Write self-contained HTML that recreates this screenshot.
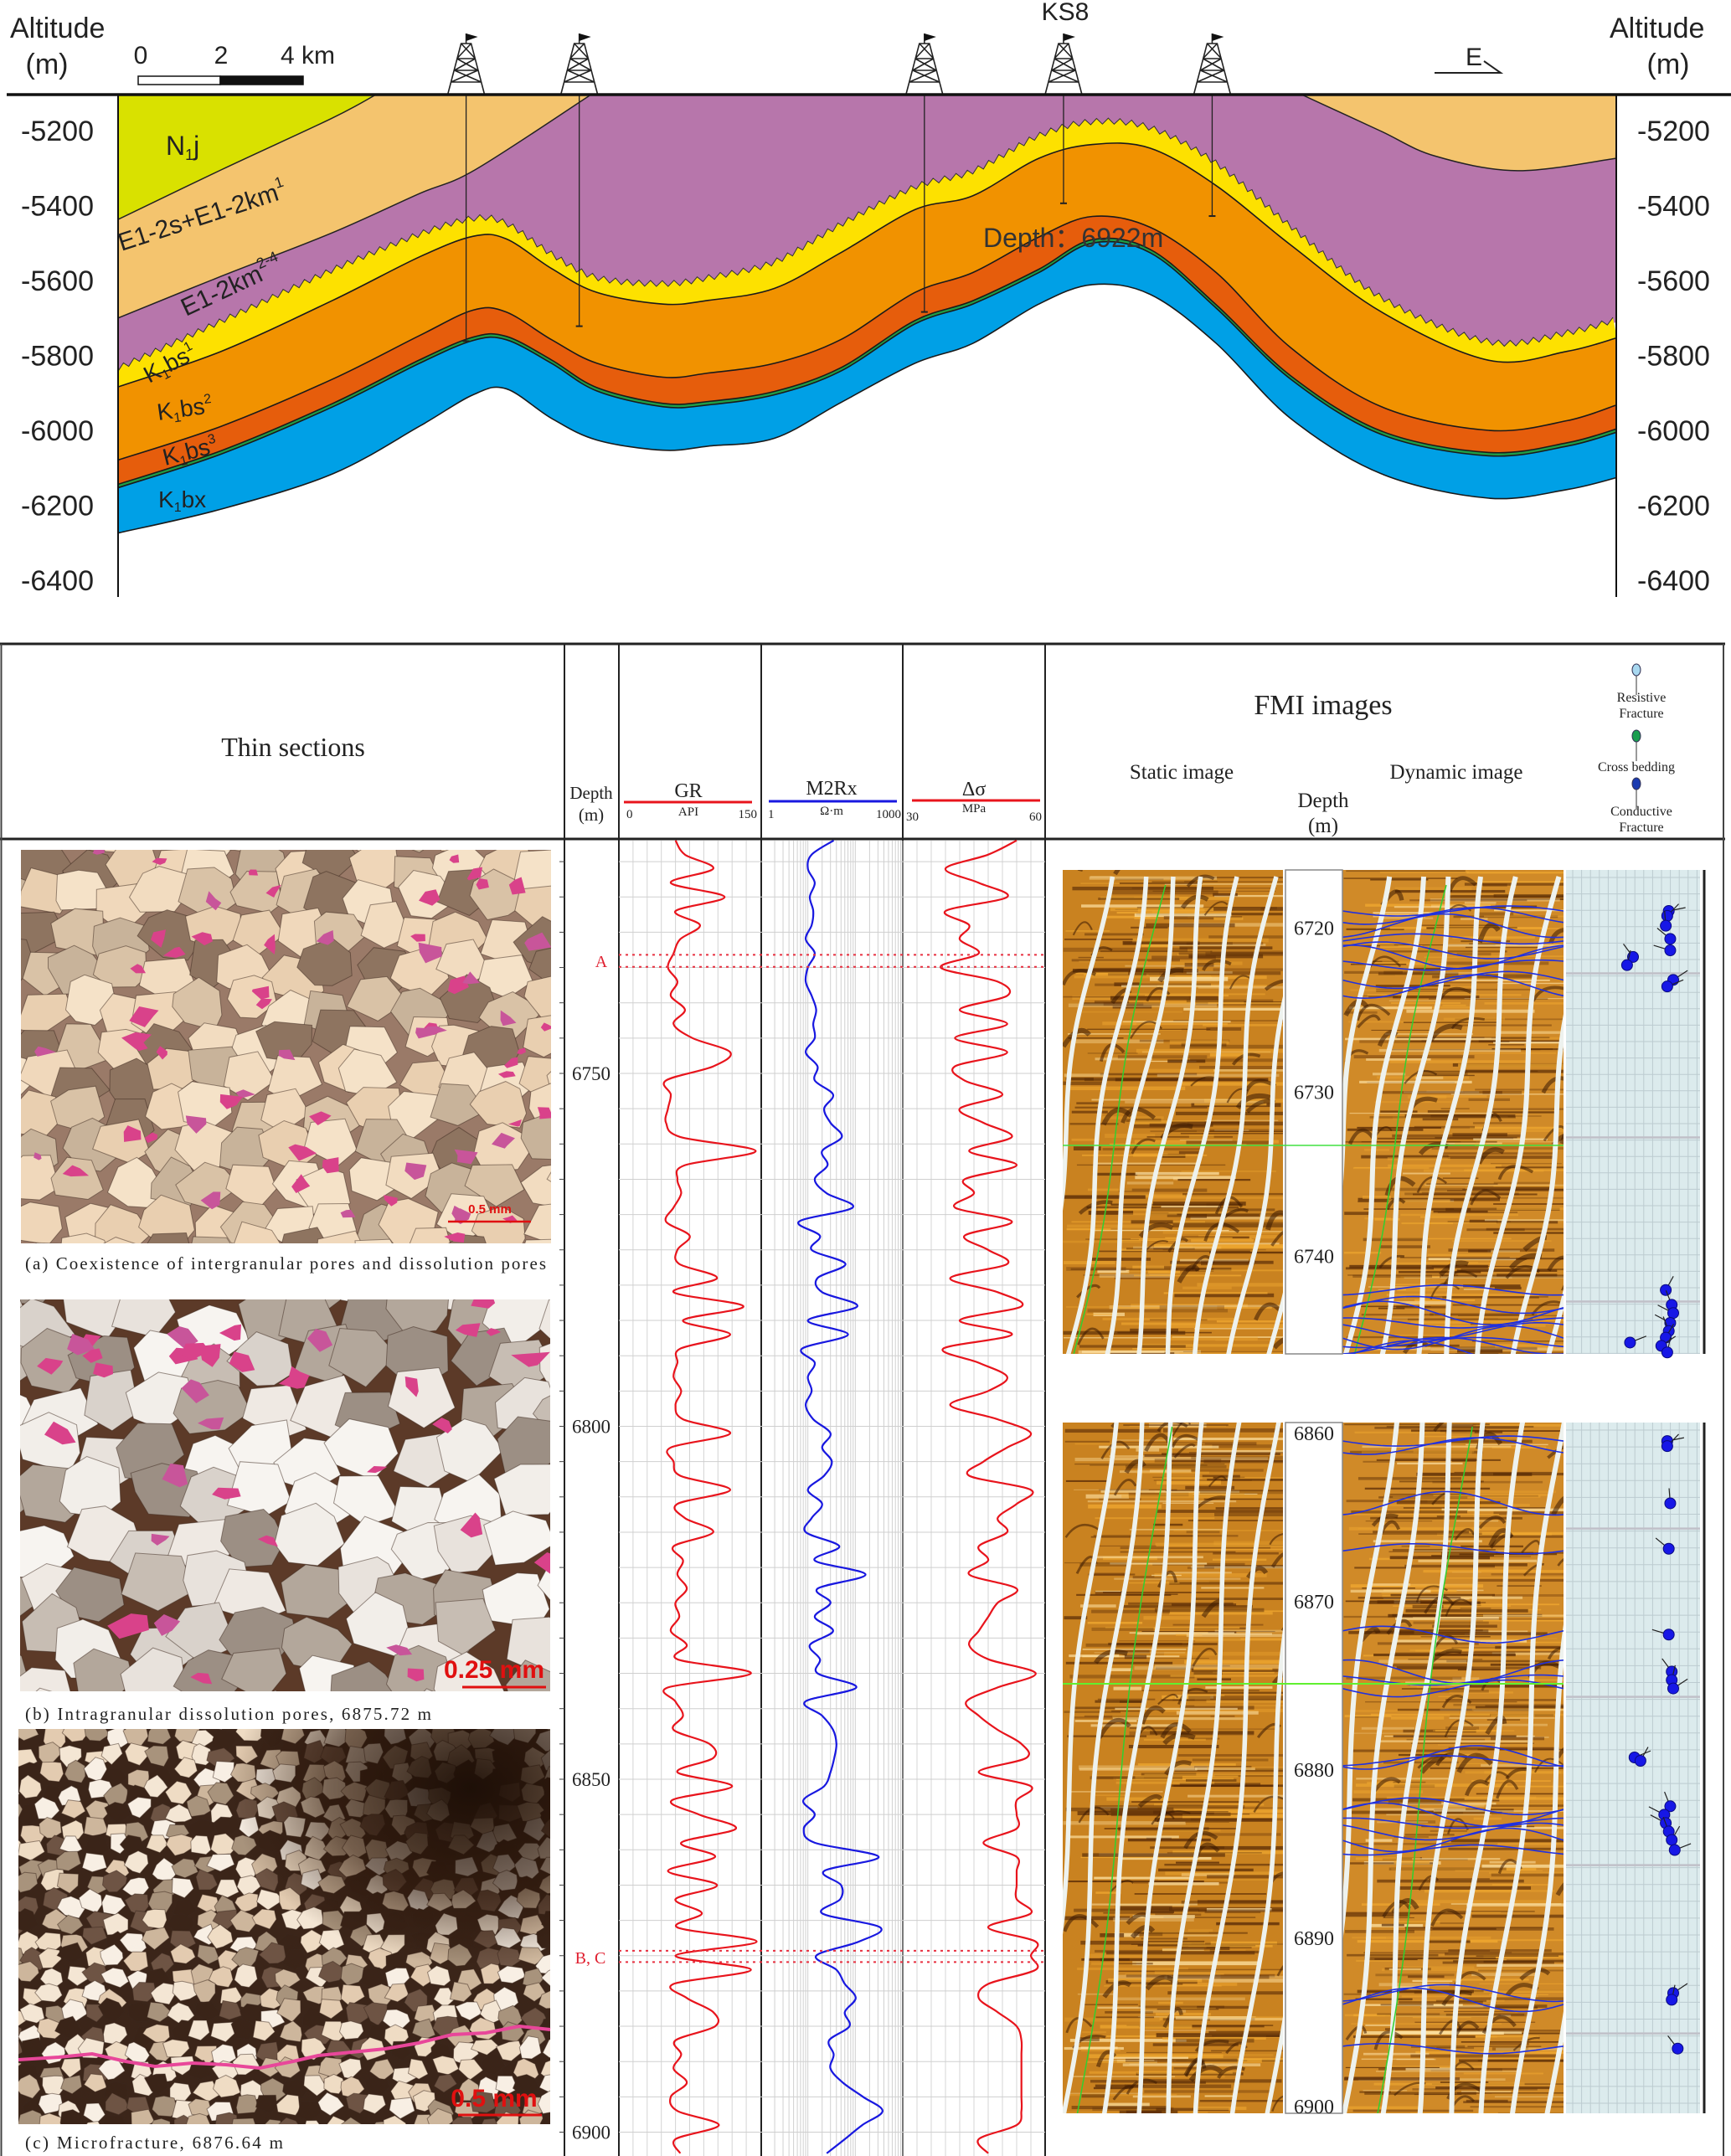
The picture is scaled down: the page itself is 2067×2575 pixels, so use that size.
<!DOCTYPE html>
<html><head><meta charset="utf-8">
<style>
html,body{margin:0;padding:0;background:#fff;}
svg{display:block;}
.nar{font-family:"Liberation Sans Narrow","Liberation Sans",sans-serif;}
.ser{font-family:"Liberation Serif",serif;}
</style></head>
<body>
<svg id="fig" width="2067" height="2575" viewBox="0 0 2067 2575" xmlns="http://www.w3.org/2000/svg">
<defs>
  <clipPath id="plotclip"><rect x="141" y="113" width="1789" height="600"/></clipPath>
  <radialGradient id="darkc" cx="0.85" cy="0.15" r="0.45">
    <stop offset="0" stop-color="#1c0e06" stop-opacity="0.95"/>
    <stop offset="0.6" stop-color="#2a1509" stop-opacity="0.6"/>
    <stop offset="1" stop-color="#2a1509" stop-opacity="0"/>
  </radialGradient>
</defs>
<g id="section" clip-path="url(#plotclip)"></g>
<g id="sectionTop"></g>
<g id="table"></g>

<g class="nar" fill="#222" font-size="34">
  <text x="12" y="45">Altitude</text>
  <text x="56" y="88" text-anchor="middle">(m)</text>
  <text x="1922" y="45">Altitude</text>
  <text x="1992" y="88" text-anchor="middle">(m)</text>
  <text x="168" y="76" text-anchor="middle" font-size="30">0</text>
  <text x="264" y="76" text-anchor="middle" font-size="30">2</text>
  <text x="335" y="76" font-size="30">4 km</text>
  <text x="1272" y="24" text-anchor="middle" font-size="30">KS8</text>
  <text x="1750" y="78" font-size="30">E</text>
  <text x="198" y="185" font-size="32">N<tspan font-size="18" dy="6">1</tspan><tspan dy="-6">j</tspan></text>
  <text x="145" y="300" font-size="30" transform="rotate(-18 145 300)">E1-2s+E1-2km<tspan font-size="18" dy="-14">1</tspan></text>
  <text x="222" y="378" font-size="30" transform="rotate(-25 222 378)">E1-2km<tspan font-size="18" dy="-14">2-4</tspan></text>
  <text x="178" y="458" font-size="28" transform="rotate(-28 178 458)">K<tspan font-size="16" dy="5">1</tspan><tspan dy="-5">bs</tspan><tspan font-size="16" dy="-12">1</tspan></text>
  <text x="189" y="502" font-size="28" transform="rotate(-8 189 502)">K<tspan font-size="16" dy="5">1</tspan><tspan dy="-5">bs</tspan><tspan font-size="16" dy="-12">2</tspan></text>
  <text x="197" y="556" font-size="28" transform="rotate(-14 197 556)">K<tspan font-size="16" dy="5">1</tspan><tspan dy="-5">bs</tspan><tspan font-size="16" dy="-12">3</tspan></text>
  <text x="189" y="606" font-size="28">K<tspan font-size="16" dy="5">1</tspan><tspan dy="-5">bx</tspan></text>
  <text x="1174" y="295" font-size="32" fill="#333">Depth：6922m</text>
</g>

<g class="ser" fill="#222">
  <text x="350" y="903" text-anchor="middle" font-size="32">Thin sections</text>
  <text x="706" y="954" text-anchor="middle" font-size="21">Depth</text>
  <text x="706" y="980" text-anchor="middle" font-size="21">(m)</text>
  <text x="822" y="952" text-anchor="middle" font-size="24">GR</text>
  <text x="822" y="974" text-anchor="middle" font-size="15">API</text>
  <text x="748" y="977" font-size="15">0</text>
  <text x="904" y="977" text-anchor="end" font-size="15">150</text>
  <text x="993" y="949" text-anchor="middle" font-size="24">M2Rx</text>
  <text x="993" y="973" text-anchor="middle" font-size="15">Ω·m</text>
  <text x="917" y="977" font-size="15">1</text>
  <text x="1076" y="977" text-anchor="end" font-size="15">1000</text>
  <text x="1163" y="950" text-anchor="middle" font-size="24">Δσ</text>
  <text x="1163" y="970" text-anchor="middle" font-size="15">MPa</text>
  <text x="1082" y="980" font-size="15">30</text>
  <text x="1244" y="980" text-anchor="end" font-size="15">60</text>
  <text x="1580" y="853" text-anchor="middle" font-size="34">FMI images</text>
  <text x="1411" y="930" text-anchor="middle" font-size="25">Static image</text>
  <text x="1739" y="930" text-anchor="middle" font-size="25">Dynamic image</text>
  <text x="1580" y="964" text-anchor="middle" font-size="25">Depth</text>
  <text x="1580" y="994" text-anchor="middle" font-size="25">(m)</text>
  <text x="1960" y="838" text-anchor="middle" font-size="16">Resistive</text>
  <text x="1960" y="857" text-anchor="middle" font-size="16">Fracture</text>
  <text x="1954" y="921" text-anchor="middle" font-size="16">Cross bedding</text>
  <text x="1960" y="974" text-anchor="middle" font-size="16">Conductive</text>
  <text x="1960" y="993" text-anchor="middle" font-size="16">Fracture</text>
  <text x="30" y="1516" font-size="21" textLength="622">(a) Coexistence of intergranular pores and dissolution pores</text>
  <text x="30" y="2054" font-size="21" textLength="485">(b) Intragranular dissolution pores,  6875.72 m</text>
  <text x="30" y="2566" font-size="21" textLength="308">(c) Microfracture,  6876.64 m</text>
  <text x="718" y="1155" text-anchor="middle" font-size="20" fill="#e02030">A</text>
  <text x="705" y="2345" text-anchor="middle" font-size="20" fill="#e02030">B, C</text>
</g>
</svg>

<script>
// ===================== DATA =====================
const stationKm = [0, 2.5, 5.2, 7.3, 8.6, 9.4, 10.5, 11.6, 13.2, 14.3, 15.9, 17.5, 19.3, 20.7, 22.3, 23.6, 25.0, 26.6, 28.4, 30.6, 33.2, 35.1, 36.3];
const baseK1bx = [-6274,-6210,-6116,-5989,-5905,-5889,-5968,-6026,-6053,-6042,-6021,-5926,-5821,-5768,-5663,-5611,-5637,-5768,-5968,-6116,-6181,-6158,-6126];
const topK1bx = [-6153,-6063,-5937,-5821,-5760,-5758,-5821,-5895,-5937,-5932,-5905,-5842,-5716,-5663,-5579,-5500,-5526,-5674,-5863,-6011,-6068,-6042,-6005];
const topK1bs3 = [-6079,-5989,-5863,-5747,-5679,-5684,-5758,-5821,-5858,-5847,-5821,-5758,-5632,-5579,-5484,-5429,-5458,-5579,-5779,-5937,-6000,-5974,-5932];
const topK1bs2 = [-5884,-5789,-5653,-5537,-5482,-5489,-5568,-5632,-5663,-5653,-5621,-5526,-5411,-5374,-5274,-5237,-5247,-5347,-5505,-5684,-5813,-5789,-5753];
const topK1bs1 = [-5842,-5716,-5579,-5484,-5442,-5455,-5537,-5600,-5616,-5600,-5558,-5458,-5358,-5316,-5221,-5184,-5200,-5295,-5463,-5653,-5771,-5747,-5711];
const tanBaseLeftKm = [0, 2.49, 5.16, 7.3, 8.64, 11.44];
const tanBaseLeftAlt = [-5700, -5589, -5474, -5368, -5305, -5105];
const njBaseKm = [0, 2.49, 5.16, 6.23];
const njBaseAlt = [-5437, -5305, -5168, -5105];
const tanRightKm = [28.69, 30.56, 31.9, 33.9, 36.28];
const tanRightAlt = [-5105, -5200, -5268, -5307, -5274];
const altTicks = [-5200, -5400, -5600, -5800, -6000, -6200, -6400];
const wellKm = [8.43, 11.17, 19.53, 22.9, 26.5];
const wellTdAlt = [-5762, -5722, -5684, -5394, -5428];

const logDepth = [6717,6719,6721,6723,6725,6727,6729,6731,6733,6735,6737,6739,6741,6743,6745,6747,6749,6751,6753,6755,6757,6759,6761,6763,6765,6767,6769,6771,6773,6775,6777,6779,6781,6783,6785,6787,6789,6791,6793,6795,6797,6799,6801,6803,6805,6807,6809,6811,6813,6815,6817,6819,6821,6823,6825,6827,6829,6831,6833,6835,6837,6839,6841,6843,6845,6847,6849,6851,6853,6855,6857,6859,6861,6863,6865,6867,6869,6871,6873,6875,6877,6879,6881,6883,6885,6887,6889,6891,6893,6895,6897,6899,6901,6903];
const grValues = [60,70,100,55,112,60,86,65,58,52,62,55,70,58,78,118,100,50,55,52,50,65,145,70,62,66,58,50,75,62,64,104,58,132,68,118,65,62,58,66,60,68,118,55,58,65,118,62,70,100,58,68,62,72,60,64,55,72,62,140,52,60,68,58,96,100,62,120,56,85,124,66,102,52,104,60,88,62,146,60,140,58,72,100,102,60,66,58,72,55,62,106,60,65];
const m2rxValues = [35,12,10,14,11,13,12,9,14,10,9,12,15,13,14,9,16,14,34,22,30,52,20,26,14,25,88,6.5,18,12,62,16,20,110,10,70,7.5,14,10,12,9,13,30,20,32,22,10,20,12,9,46,14,164,16,30,14,34,11,18,16,105,8.8,20,34,40,36,30,22,8,14,8.2,14,310,22,50,48,20,335,120,15,40,60,102,60,75,28,35,30,55,145,375,140,60,25];
const dsigValues = [54,48,39,46,52,39,44,42,46,38,50,52,42,52,41,52,41,43,51,42,47,53,44,54,43,45,41,53,43,48,52,40,50,55,42,53,38.5,46,52,48,40,50,57,52,47,44,57,54,50,52,46,48,44,54,50,48,46,44,48,58,50,43.4,46,50,55,56,46,57,54,54,54,47,54,54,54,54,57,48,58,57,58,48,46,50,54,55,55,55,55,55,55,54,46,48];
const depthTicks = [6750, 6800, 6850, 6900];
const markerA = [6733.2, 6734.9];
const markerBC = [6874.3, 6875.9];

const fmi1Ticks = [6720, 6730, 6740];
const fmi2Ticks = [6860, 6870, 6880, 6890, 6900];
const tad1Depth = [6719.0,6719.3,6719.9,6720.7,6721.4,6721.8,6722.3,6723.2,6723.6,6742.1,6743.0,6743.5,6744.1,6744.6,6745.0,6745.3,6745.5,6745.9];
const tad1Dip = [69,68,67,70,70,45,41,72,68,67,71,72,70,69,67,43,64,68];
const tad2Depth = [6860.5,6860.8,6864.2,6866.9,6872.0,6874.2,6874.7,6875.2,6879.3,6879.5,6882.2,6882.7,6883.2,6883.7,6884.2,6884.8,6893.3,6893.7,6896.6];
const tad2Dip = [68,68,70,69,69,71,71,72,46,50,70,66,67,69,71,73,72,71,75];

// ===================== HELPERS =====================
const NS = 'http://www.w3.org/2000/svg';
function mk(parent, tag, attrs){ const e=document.createElementNS(NS,tag); for(const k in attrs) e.setAttribute(k,attrs[k]); parent.appendChild(e); return e; }
let seed=12345;
function rnd(){ seed|=0; seed=seed+0x6D2B79F5|0; let t=Math.imul(seed^seed>>>15,1|seed); t=t+Math.imul(t^t>>>7,61|t)^t; return ((t^t>>>14)>>>0)/4294967296; }
function curve(pts, cmd){
  let d = cmd + pts[0][0].toFixed(1) + ',' + pts[0][1].toFixed(1);
  for(let i=0;i<pts.length-1;i++){
    const p0=pts[i-1]||pts[i], p1=pts[i], p2=pts[i+1], p3=pts[i+2]||p2;
    const c1=[p1[0]+(p2[0]-p0[0])/6, p1[1]+(p2[1]-p0[1])/6];
    const c2=[p2[0]-(p3[0]-p1[0])/6, p2[1]-(p3[1]-p1[1])/6];
    d+=' C'+c1[0].toFixed(1)+','+c1[1].toFixed(1)+' '+c2[0].toFixed(1)+','+c2[1].toFixed(1)+' '+p2[0].toFixed(1)+','+p2[1].toFixed(1);
  }
  return d;
}

// ===================== CROSS SECTION =====================
const xKm = k => 141 + k*49.3;
const yAlt = a => 156 + (-5200 - a)*0.4475;
const sec = document.getElementById('section');
const secTop = document.getElementById('sectionTop');
const ptsOf = (kms, alts) => kms.map((k,i)=>[xKm(k), yAlt(alts[i])]);
const topLine = [[xKm(0), yAlt(-5105)], [xKm(36.3), yAlt(-5105)]];
const hK1bx = ptsOf(stationKm, baseK1bx);
const hBlue = ptsOf(stationKm, topK1bx);
const hGreen = ptsOf(stationKm, topK1bx.map(a=>a+9));
const hBs3 = ptsOf(stationKm, topK1bs3);
const hBs2 = ptsOf(stationKm, topK1bs2);
const hBs1 = ptsOf(stationKm, topK1bs1);
function band(upper, lower, fill, name){
  const p = mk(sec,'path',{d: curve(upper,'M')+' '+curve(lower.slice().reverse(),'L')+' Z', fill: fill, stroke:'none'});
  
  
  return p;
}
band(topLine, hBs1, '#b776ab', 'layer-e12km24');
const tmp = mk(sec,'path',{d: curve(hBs1,'M'), fill:'none', stroke:'none'});


const L = tmp.getTotalLength();
const zig = [];
for(let s=0, i=0; s<=L; s+=7, i++){ const p=tmp.getPointAtLength(s); zig.push([p.x, p.y - (i%2?7:0)]); }
let zd = 'M'+zig.map(p=>p[0].toFixed(1)+','+p[1].toFixed(1)).join(' L');
zd += ' ' + curve(hBs2.slice().reverse(),'L') + ' Z';
const yl = mk(sec,'path',{d: zd, fill:'#fde100', stroke:'none'});


band(hBs2, hBs3, '#f19200', 'layer-k1bs2');
band(hBs3, hGreen, '#e65d0c', 'layer-k1bs3');
band(hGreen, hBlue, '#1f9e48', 'layer-thin-green');
band(hBlue, hK1bx, '#00a0e6', 'layer-k1bx');
const tanL = ptsOf(tanBaseLeftKm, tanBaseLeftAlt);
const tanLp = mk(sec,'path',{d: 'M'+xKm(0)+','+yAlt(-5105)+' L'+xKm(11.44)+','+yAlt(-5105)+' ' + curve(tanL.slice().reverse(),'L') + ' Z', fill:'#f4c46e', stroke:'#222', 'stroke-width':1.5});


const nj = ptsOf(njBaseKm, njBaseAlt);
const njp = mk(sec,'path',{d: 'M'+xKm(0)+','+yAlt(-5105)+' L'+xKm(6.23)+','+yAlt(-5105)+' ' + curve(nj.slice().reverse(),'L') + ' Z', fill:'#d9e100', stroke:'#222', 'stroke-width':1.5});


const tanR = ptsOf(tanRightKm, tanRightAlt);
const tanRp = mk(sec,'path',{d: curve(tanR,'M') + ' L'+xKm(36.3)+','+yAlt(-5105)+' Z', fill:'#f4c46e', stroke:'#222', 'stroke-width':1.5});


[[hK1bx,'horizon-k1bx-base'],[hBlue,'horizon-k1bx-top'],[hGreen,'horizon-green-top'],[hBs3,'horizon-k1bs3-top'],[hBs2,'horizon-k1bs2-top']].forEach(function(pair){
  const o = mk(sec,'path',{d: curve(pair[0],'M'), fill:'none', stroke:'#1a1a1a', 'stroke-width':1.6});
  
  
});
const zo = mk(sec,'path',{d: 'M'+zig.map(p=>p[0].toFixed(1)+','+p[1].toFixed(1)).join(' L'), fill:'none', stroke:'#333', 'stroke-width':1});


wellKm.forEach((k,i)=>{
  const x = xKm(k), yb = yAlt(wellTdAlt[i]);
  const wl = mk(secTop,'line',{x1:x,y1:113,x2:x,y2:yb,stroke:'#222','stroke-width':1.3});
  
  
  const wt = mk(secTop,'line',{x1:x-4,y1:yb,x2:x+4,y2:yb,stroke:'#222','stroke-width':2});
  
  
  const g = mk(secTop,'g',{stroke:'#222','stroke-width':1.6,fill:'none'});
  
  
  const dd = 'M'+(x-22)+',113 L'+(x-6)+',52 L'+(x+6)+',52 L'+(x+22)+',113 M'+(x-18)+',98 L'+(x+18)+',98 M'+(x-14)+',84 L'+(x+14)+',84 M'+(x-11)+',70 L'+(x+11)+',70 M'+(x-18)+',98 L'+(x+14)+',84 M'+(x+18)+',98 L'+(x-14)+',84 M'+(x-14)+',84 L'+(x+11)+',70 M'+(x+14)+',84 L'+(x-11)+',70 M'+(x-11)+',70 L'+(x+6)+',52 M'+(x+11)+',70 L'+(x-6)+',52 M'+x+',52 L'+x+',40';
  const dp = mk(g,'path',{d:dd});
  
  
  const fl = mk(secTop,'path',{d:'M'+x+',40 L'+(x+14)+',44 L'+x+',49 Z', fill:'#111'});
  
  
});
const ax = mk(secTop,'line',{x1:8,y1:113,x2:2067,y2:113,stroke:'#111','stroke-width':3.5});


const axl = mk(secTop,'line',{x1:141,y1:113,x2:141,y2:713,stroke:'#111','stroke-width':2});


const axr = mk(secTop,'line',{x1:1930,y1:113,x2:1930,y2:713,stroke:'#111','stroke-width':2});


altTicks.forEach(a=>{
  const tl = mk(secTop,'text',{x:112,y:yAlt(a)+12,'text-anchor':'end','font-size':34,'class':'nar',fill:'#222'});
  tl.textContent = String(a);
  
  
  const tr = mk(secTop,'text',{x:1955,y:yAlt(a)+12,'font-size':34,'class':'nar',fill:'#222'});
  tr.textContent = String(a);
  
  
});
const sb1 = mk(secTop,'rect',{x:165,y:91,width:98,height:10,fill:'#fff',stroke:'#111','stroke-width':1.5});


const sb2 = mk(secTop,'rect',{x:263,y:91,width:99,height:10,fill:'#111',stroke:'#111','stroke-width':1.5});


const ea = mk(secTop,'path',{d:'M1713,87 L1792,87 L1772,73',fill:'none',stroke:'#222','stroke-width':2});



// ===================== TABLE =====================
const T = document.getElementById('table');
function line(x1,y1,x2,y2,w,c,name,dash){
  const a={x1:x1,y1:y1,x2:x2,y2:y2,stroke:c||'#111','stroke-width':w}; if(dash) a['stroke-dasharray']=dash;
  const e = mk(T,'line',a);
  
  
  return e;
}
function thin(x,y,w,h,cell,pal,bg,pinkN,name,dark,grow){
  const cid = name+'-clip';
  const cp = mk(T,'clipPath',{id:cid});
  
  
  const cr = mk(cp,'rect',{x:x,y:y,width:w,height:h});
  
  
  const g = mk(T,'g',{'clip-path':'url(#'+cid+')'});
  
  
  const b = mk(g,'rect',{x:x,y:y,width:w,height:h,fill:bg});
  
  
  const grains=[];
  for(let gy=y-cell/2; gy<y+h+cell; gy+=cell*0.85){
    for(let gx=x-cell/2; gx<x+w+cell; gx+=cell){
      const cx=gx+(rnd()-0.5)*cell*0.5, cy=gy+(rnd()-0.5)*cell*0.5;
      let d=''; const n=5+Math.floor(rnd()*3);
      for(let j=0;j<n;j++){const an=j/n*6.283+rnd()*0.5; const rr=cell*(grow+rnd()*0.2); d+=(j?'L':'M')+(cx+Math.cos(an)*rr*1.05).toFixed(1)+','+(cy+Math.sin(an)*rr*0.9).toFixed(1);}
      grains.push([d+'Z', pal[Math.floor(rnd()*pal.length)]]);
    }
  }
  grains.forEach(gd=>{
    const gr = mk(g,'path',{d:gd[0],fill:gd[1],stroke:'rgba(60,40,30,0.5)','stroke-width':1});
    
    
  });
  for(let i=0;i<pinkN;i++){
    const cx=x+rnd()*w, cy=y+rnd()*h, r=cell*(0.12+rnd()*0.2);
    let d=''; for(let j=0;j<5;j++){const an=j/5*6.283+rnd(); const rr=r*(0.5+rnd()); d+=(j?'L':'M')+(cx+Math.cos(an)*rr).toFixed(1)+','+(cy+Math.sin(an)*rr*0.7).toFixed(1);}
    const pk = mk(g,'path',{d:d+'Z',fill:rnd()<0.7?'#d9428a':'#c8559a'});
    
    
  }
  if(dark){
    const dk = mk(g,'rect',{x:x,y:y,width:w,height:h,fill:'url(#darkc)'});
    
    
  }
  return g;
}
seed = 77;
thin(25,1015,633,470,50,['#f2dcc0','#efd6b8','#e9cfb0','#f5e2c8','#f0d8bb','#d9c2a6','#c8b39a','#8e7460'],'#9a7a68',60,'thin-section-a',false,0.55);
const sa1 = mk(T,'text',{x:585,y:1449,'text-anchor':'middle','font-size':15,'font-weight':'bold',fill:'#e01010','class':'nar'});
sa1.textContent='0.5 mm';


line(535,1459,634,1459,2.5,'#e01010','scale-bar-a');
thin(24,1552,633,468,64,['#f2eee9','#e8e2dc','#d9d2cb','#c7bdb3','#f7f4f0','#efe9e3','#b3a79b','#9c8f84'],'#5c3a28',35,'thin-section-b',false,0.52);
const sbl = mk(T,'text',{x:590,y:2004,'text-anchor':'middle','font-size':30,'font-weight':'bold',fill:'#e01010','class':'nar'});
sbl.textContent='0.25 mm';


line(552,2015,652,2015,3,'#e01010','scale-bar-b');
thin(22,2065,635,472,26,['#f4e6d4','#efdcc4','#e3cbb0','#cdb69c','#f8efe4','#a8937c','#6e5444','#3a2418'],'#3b2519',0,'thin-section-c',true,0.45);
const frac = mk(T,'path',{d:'M22,2460 L70,2457 L110,2453 L150,2462 L185,2468 L230,2464 L270,2466 L310,2470 L350,2462 L380,2455 L420,2451 L460,2447 L500,2440 L540,2430 L580,2428 L620,2420 L657,2424',fill:'none',stroke:'#e8479a','stroke-width':4});


const scl = mk(T,'text',{x:590,y:2516,'text-anchor':'middle','font-size':30,'font-weight':'bold',fill:'#e01010','class':'nar'});
scl.textContent='0.5 mm';


line(547,2526,647,2526,3,'#e01010','scale-bar-c');

line(0,769,2060,769,3,'#222','table-top-border');
line(0,1002,2060,1002,3,'#222','header-bottom-border');
line(1.5,769,1.5,2575,2,'#444','table-left-border');
line(2058,769,2058,2575,2,'#444','table-right-border');
[674,739,909,1078,1248].forEach(x=>line(x,769,x,2575,2,'#222','column-divider'));

const yD = d => 1282 + (d-6750)*8.43;
const xGR = v => 739 + v/150*169;
const xRes = v => 908 + Math.log10(v)/3*170;
const xDs = v => 1078 + (v-30)/30*170;
for(let i=1;i<10;i++){ line(739+i*16.9,1004,739+i*16.9,2575,1,'#d4d4d4','gr-grid-vertical'); line(1078+i*17,1004,1078+i*17,2575,1,'#d4d4d4','dsigma-grid-vertical'); }
for(let dec=0;dec<3;dec++) for(let m=2;m<=10;m++){ const x=908+(dec+Math.log10(m))/3*170; line(x,1004,x,2575,1,'#d0d0d0','m2rx-grid-vertical'); }
for(let d=6720; d<=6905; d+=5){ const y=yD(d); line(739,y,1248,y,1,'#cfcfcf','depth-grid-horizontal'); line(668,y,674,y,1,'#444','depth-tick'); }
depthTicks.forEach(d=>{
  const t = mk(T,'text',{x:706,y:yD(d)+8,'text-anchor':'middle','font-size':23,'class':'ser',fill:'#222'});
  t.textContent = String(d);
  
  
});
function logLine(xf, vals, color, name){
  const pts = logDepth.map((d,i)=>[xf(vals[i]), yD(d)]);
  const p = mk(T,'path',{d: curve(pts,'M'), fill:'none', stroke: color, 'stroke-width':2.2,'stroke-linejoin':'round'});
  
  
}
logLine(xGR, grValues, '#e8141c', 'gr-curve');
logLine(xRes, m2rxValues, '#1818e0', 'm2rx-curve');
logLine(xDs, dsigValues, '#e8141c', 'dsigma-curve');
line(745,958,898,958,3,'#e8141c','gr-legend-line');
line(918,957,1071,957,3,'#1818e0','m2rx-legend-line');
line(1089,956,1242,956,3,'#e8141c','dsigma-legend-line');
markerA.concat(markerBC).forEach(d=>line(739,yD(d),1250,yD(d),2,'#e83040','sample-marker-line','3,5'));

[[800,'#a8d8f0','legend-resistive-icon'],[879,'#1a9e50','legend-crossbedding-icon'],[936,'#1a3ab0','legend-conductive-icon']].forEach(function(it){
  line(1954,it[0]+6,1954,it[0]+30,1,'#333',it[2]+'-tail');
  const e = mk(T,'ellipse',{cx:1954,cy:it[0],rx:5,ry:7,fill:it[1],stroke:'#335','stroke-width':1});
  
  
});

function fmiImage(x,y,w,h,name,dyn){
  const cid = name+'-clip';
  const cp = mk(T,'clipPath',{id:cid});
  
  
  const cr = mk(cp,'rect',{x:x,y:y,width:w,height:h});
  
  
  const g = mk(T,'g',{'clip-path':'url(#'+cid+')'});
  
  
  const b = mk(g,'rect',{x:x,y:y,width:w,height:h,fill:dyn?'#d08a28':'#c98220'});
  
  
  const n = Math.floor(h/2.0);
  for(let i=0;i<n;i++){
    const yy=y+rnd()*h, r=rnd();
    const c = r<0.5?'#5a2c06':(r<0.8?'#f0a830':'#fde0a0');
    const x0 = x+rnd()*w*0.7, ww = w*(0.1+rnd()*0.6);
    const s = mk(g,'rect',{x:x0,y:yy,width:ww,height:1+rnd()*(dyn?3:4),fill:c,opacity:(0.3+rnd()*0.5).toFixed(2)});
    
    
  }
  for(let i=0;i<h/14;i++){
    const cx=x+rnd()*w, cy=y+rnd()*h;
    const bd = 'M'+cx+','+cy+' q'+(8+rnd()*12)+','+(-15-rnd()*20)+' '+(20+rnd()*20)+','+(-5-rnd()*10);
    const bl = mk(g,'path',{d:bd,fill:'none',stroke:'#3a1a02','stroke-width':2+rnd()*4,opacity:0.55});
    
    
  }
  for(let k=-1;k<8;k++){
    const pts=[]; const bx = x + k*w/6.5 + rnd()*10;
    for(let yy=y+h+10; yy>=y-10; yy-=20){ const t=(y+h-yy)/h; pts.push([bx + t*90 + Math.sin(t*9+k)*8, yy]); }
    const wp = mk(g,'path',{d:curve(pts,'M'),fill:'none',stroke:'#eef2ee','stroke-width':dyn?6:5.5});
    
    
  }
  const gpts=[]; const gb = x + w*(0.05+rnd()*0.3);
  for(let yy=y+h; yy>=y; yy-=20){ const t=(y+h-yy)/h; gpts.push([gb + t*110 + Math.sin(t*7)*6, yy]); }
  const gl = mk(g,'path',{d:curve(gpts,'M'),fill:'none',stroke:'#30d030','stroke-width':1.5});
  
  
  return g;
}
function sinus(g,x,w,yc,amp,ph,name){
  let d=''; for(let i=0;i<=40;i++){ const xx=x+w*i/40; const yy=yc+amp*Math.sin(i/40*6.283+ph); d+=(i?'L':'M')+xx.toFixed(1)+','+yy.toFixed(1); }
  const s = mk(g,'path',{d:d,fill:'none',stroke:'#2030e0','stroke-width':1.6});
  
  
}
function fmiBlock(y0,y1,d0,ppm,ticks,tadD,tadDip,idx){
  seed = 500+idx*31;
  fmiImage(1269,y0,263,y1-y0,'fmi-static-'+idx,false);
  const dg = fmiImage(1603,y0,264,y1-y0,'fmi-dynamic-'+idx,true);
  const yd = d => y0 + (d-d0)*ppm;
  tadD.forEach((d,i)=>sinus(dg,1603,264,yd(d),6+(i%3)*4,i*0.9,'conductive-fracture-trace'));
  const strip = mk(T,'rect',{x:1535,y:y0,width:68,height:y1-y0,fill:'#fff',stroke:'#888','stroke-width':1.5});
  
  
  ticks.forEach(t=>{
    const tx = mk(T,'text',{x:1569,y:yd(t)+9,'text-anchor':'middle','font-size':24,'class':'ser',fill:'#222'});
    tx.textContent = String(t);
    
    
  });
  const tp = mk(T,'rect',{x:1870,y:y0,width:160,height:y1-y0,fill:'#dcebed'});
  
  
  for(let x=1878;x<2030;x+=10.6) line(x,y0,x,y1,1,'#bccbd0','tadpole-grid-vertical');
  for(let y=y0+9;y<y1;y+=ppm) line(1870,y,2030,y,1,'#bccbd0','tadpole-grid-horizontal');
  for(let y=y0+ppm*6.3;y<y1;y+=ppm*10) line(1870,y,2030,y,2.5,'#c0c0c8','tadpole-grid-major');
  line(2035,y0,2035,y1,3,'#222','tadpole-panel-border');
  tadD.forEach((d,i)=>{
    const cx = 1870 + tadDip[i]/90*160, cy = yd(d);
    const ang = (i*47)%360*Math.PI/180;
    line(cx,cy,cx+Math.cos(ang)*20,cy-Math.abs(Math.sin(ang))*14-4,1.2,'#222','tadpole-tail');
    const c = mk(T,'circle',{cx:cx,cy:cy,r:6.5,fill:'#1717e6',stroke:'#0a0a80','stroke-width':1});
    
    
  });
}
fmiBlock(1039,1617,6716.5,19.6,fmi1Ticks,tad1Depth,tad1Dip,1);
fmiBlock(1699,2524,6859.4,20.1,fmi2Ticks,tad2Depth,tad2Dip,2);
line(1269,1368,1867,1368,1.5,'#40e040','fmi-horizontal-marker');
line(1269,2011,1867,2011,2,'#60f030','fmi-horizontal-marker');
</script>
</body></html>
